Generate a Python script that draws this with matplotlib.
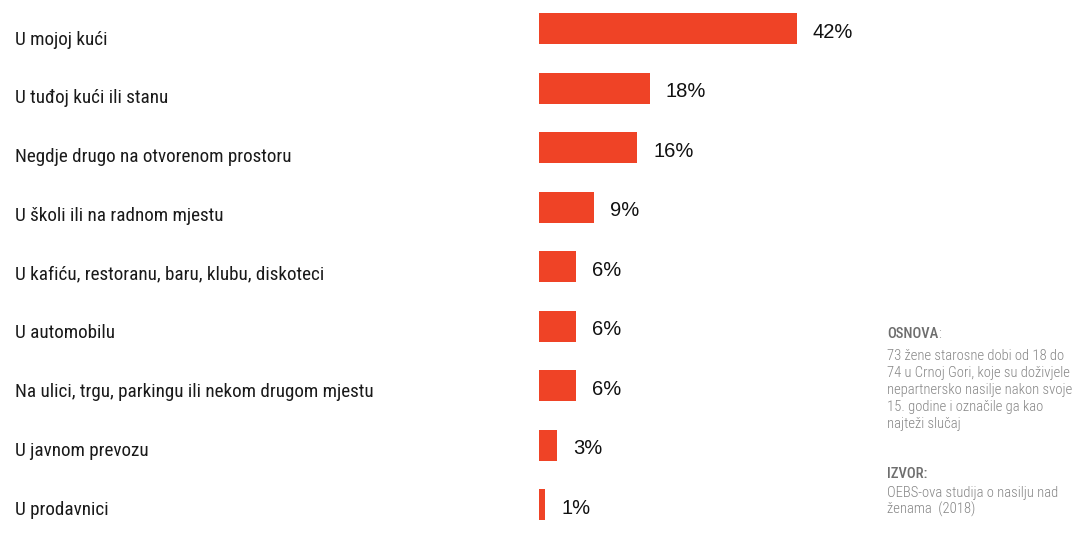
import matplotlib
matplotlib.use("Agg")
from matplotlib import pyplot as plt
from matplotlib.transforms import blended_transform_factory

# Data
categories = [
    "U mojoj kući",
    "U tuđoj kući ili stanu",
    "Negdje drugo na otvorenom prostoru",
    "U školi ili na radnom mjestu",
    "U kafiću, restoranu, baru, klubu, diskoteci",
    "U automobilu",
    "Na ulici, trgu, parkingu ili nekom drugom mjestu",
    "U javnom prevozu",
    "U prodavnici",
]
values = [42, 18, 16, 9, 6, 6, 6, 3, 1]
value_labels = [f"{v}%" for v in values]

note_title = "OSNOVA"
note_body = [
    "73 žene starosne dobi od 18 do",
    "74 u Crnoj Gori, koje su doživjele",
    "nepartnersko nasilje nakon svoje",
    "15. godine i označile ga kao",
    "najteži slučaj",
]
source_title = "IZVOR:"
source_body = ["OEBS-ova studija o nasilju nad", "ženama  (2018)"]

BAR_COLOR = "#ef4326"
NARROW = ["Roboto Condensed", "Archivo Narrow", "Liberation Sans", "DejaVu Sans"]
NOTE_GRAY = "#858585"
NOTE_TITLE_GRAY = "#6e6e6e"

W, H = 1075, 537
fig = plt.figure(figsize=(W / 100, H / 100), dpi=100)

# axes: left edge at bar origin (px 539), 6.14 px per percent
left_px, right_px = 539, 870
ax = fig.add_axes([left_px / W, 0, (right_px - left_px) / W, 1])
ax.set_xlim(0, (right_px - left_px) / 6.14)
row0, step = 28.5, 59.56
ax.set_ylim((H - row0) / step, -row0 / step)
ax.axis("off")

ys = list(range(len(categories)))
ax.barh(ys, values, height=0.52, color=BAR_COLOR)

for y, v, lab in zip(ys, values, value_labels):
    ax.annotate(lab, (v, y), xytext=(16, -3.5), textcoords="offset pixels",
                ha="left", va="center", fontsize=14.5, color="#111111",
                family="Liberation Sans")

# category labels sit a little lower than the bars and drift upward row by row
label_tr = blended_transform_factory(fig.transFigure, ax.transData)
for y, cat in zip(ys, categories):
    ax.text(15 / W, 0.269 + 0.9864 * y, cat, transform=label_tr,
            ha="left", va="baseline", fontsize=13.8, color="#1a1a1a",
            family=NARROW)

# side note (baselines in px from top)
x_note = 887 / W


def note_line(px, text, weight="light", color=NOTE_GRAY):
    return fig.text(x_note, 1 - px / H, text, ha="left", va="baseline",
                    fontsize=10.5, family=NARROW, color=color,
                    fontweight=weight)


title = note_line(338, note_title, "medium", NOTE_TITLE_GRAY)
fig.canvas.draw()
bb = title.get_window_extent()
fig.text(bb.x1 / W, 1 - 338 / H, ":", ha="left", va="baseline",
         fontsize=10.5, family=NARROW, color=NOTE_GRAY, fontweight="light")
for i, line in enumerate(note_body):
    note_line(360 + i * 17.1, line)
note_line(477.7, source_title, "medium", NOTE_TITLE_GRAY)
for i, line in enumerate(source_body):
    note_line(496.7 + i * 16.8, line)

fig.savefig("out.png", dpi=100)
